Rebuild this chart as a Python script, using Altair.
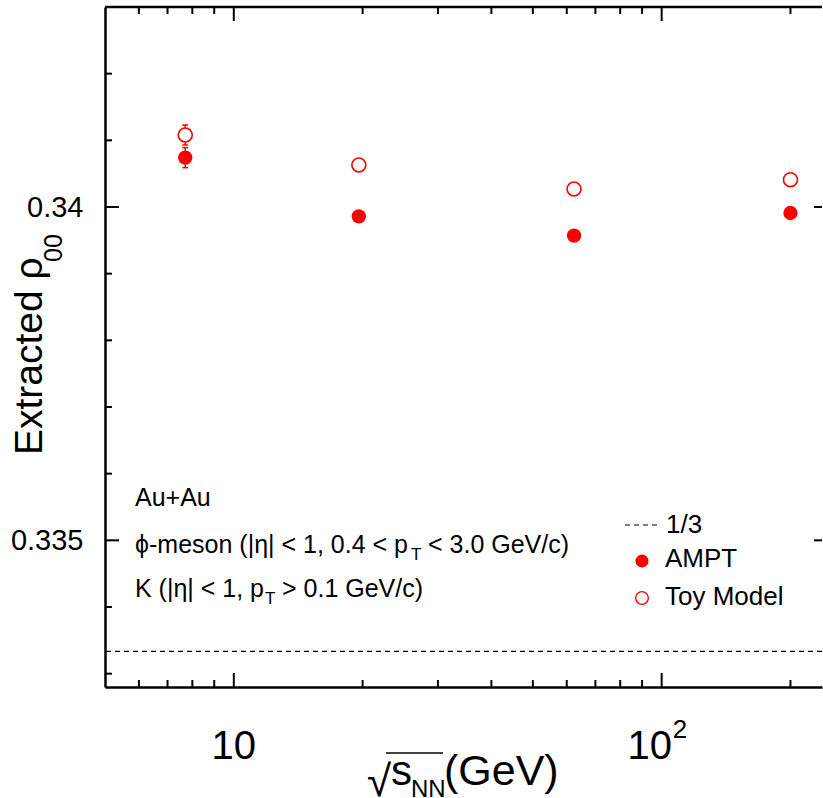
import altair as alt
import pandas as pd

# ---------------- data ----------------
energies = [7.7, 19.6, 62.4, 200.0]
ampt_rho = [0.34074, 0.33986, 0.33957, 0.33991]
ampt_err = [0.00015, 0.00004, 0.00004, 0.00004]
toy_rho = [0.34108, 0.34063, 0.34027, 0.34041]
toy_err = [0.00015, 0.00004, 0.00004, 0.00004]
reference_value = [1.0 / 3.0]
y_major = [0.335, 0.340]
y_minor = [0.333, 0.334, 0.336, 0.337, 0.338, 0.339, 0.341, 0.342]
x_major = [10, 100]
x_major_base = ["10", "10"]
x_major_exp = ["", "2"]
x_minor = [6, 7, 8, 9, 20, 30, 40, 50, 60, 70, 80, 90, 200]
legend_labels = ["1/3", "AMPT", "Toy Model"]
note_system = ["Au+Au"]
note_phi = ["ϕ-meson (|η| < 1, 0.4 < p", "T", "< 3.0 GeV/c)"]
note_kaon = ["K (|η| < 1, p", "T", "> 0.1 GeV/c)"]
y_title = ["Extracted ρ", "00"]
x_title = ["√", "s", "NN", "(GeV)"]

# ---------------- layout ----------------
FONT = "Liberation Sans"
L, T = 105, 7
W, H = 717, 680
RED = "#ff0000"


def px(x):
    return x - L


def py(y):
    return y - T


xs = alt.Scale(type="log", domain=[5, 237], nice=False)
ys = alt.Scale(domain=[0.3328, 0.343], nice=False, zero=False)

xaxis = alt.Axis(values=x_major, labels=False, ticks=False, tickSize=0,
                 grid=False, domain=True, domainColor="black", domainWidth=2.5,
                 title=None)
yaxis = alt.Axis(values=y_major, format=".3~f", ticks=False, tickSize=0,
                 grid=False, domain=True, domainColor="black", domainWidth=2.5,
                 labelFont=FONT, labelFontSize=29, labelColor="black",
                 labelPadding=22, labelFlush=False, title=None)


def X(f):
    return alt.X(f, type="quantitative", scale=xs, axis=xaxis)


def Y(f):
    return alt.Y(f, type="quantitative", scale=ys, axis=yaxis)


df = pd.DataFrame({
    "e": energies + energies,
    "rho": ampt_rho + toy_rho,
    "err": ampt_err + toy_err,
    "series": ["AMPT"] * len(energies) + ["Toy Model"] * len(energies),
})
df["lo"] = df["rho"] - df["err"]
df["hi"] = df["rho"] + df["err"]

layers = []

# reference line 1/3
layers.append(alt.Chart(pd.DataFrame({"v": reference_value})).mark_rule(
    color="black", strokeWidth=1.2, strokeDash=[5, 4]).encode(y=Y("v")))

# top frame line
layers.append(alt.Chart(pd.DataFrame({"k": [0]})).mark_rule(
    color="black", strokeWidth=2.5).encode(
    x=alt.value(0), x2=alt.value(W), y=alt.value(0)))

# ticks
ymin_df = pd.DataFrame({"v": y_minor})
ymaj_df = pd.DataFrame({"v": y_major})
xmin_df = pd.DataFrame({"v": x_minor})
xmaj_df = pd.DataFrame({"v": x_major, "b": x_major_base, "p": x_major_exp})
tk = dict(color="black", strokeWidth=2)
layers.append(alt.Chart(ymin_df).mark_rule(**tk).encode(
    y=Y("v"), x=alt.value(0), x2=alt.value(7)))
layers.append(alt.Chart(ymaj_df).mark_rule(**tk).encode(
    y=Y("v"), x=alt.value(0), x2=alt.value(14)))
layers.append(alt.Chart(ymaj_df).mark_rule(**tk).encode(
    y=Y("v"), x=alt.value(W - 8), x2=alt.value(W)))
layers.append(alt.Chart(xmin_df).mark_rule(**tk).encode(
    x=X("v"), y=alt.value(H), y2=alt.value(H - 7)))
layers.append(alt.Chart(xmaj_df).mark_rule(**tk).encode(
    x=X("v"), y=alt.value(H), y2=alt.value(H - 14)))
layers.append(alt.Chart(xmin_df).mark_rule(**tk).encode(
    x=X("v"), y=alt.value(0), y2=alt.value(7)))
layers.append(alt.Chart(xmaj_df).mark_rule(**tk).encode(
    x=X("v"), y=alt.value(0), y2=alt.value(14)))

# x tick labels: "10" and "10" with superscript "2"
xlab = alt.Chart(xmaj_df)
layers.append(xlab.transform_filter(alt.datum.p == "").mark_text(
    align="center", baseline="alphabetic", font=FONT, fontSize=40,
    color="black").encode(x=X("v"), y=alt.value(py(759)), text="b:N"))
layers.append(xlab.transform_filter(alt.datum.p != "").mark_text(
    align="center", baseline="alphabetic", font=FONT, fontSize=40,
    color="black", dx=-12).encode(x=X("v"), y=alt.value(py(759)), text="b:N"))
layers.append(xlab.transform_filter(alt.datum.p != "").mark_text(
    align="left", baseline="alphabetic", font=FONT, fontSize=26,
    color="black", dx=11).encode(x=X("v"), y=alt.value(py(738)), text="p:N"))

# error bars
base = alt.Chart(df)
layers.append(base.mark_rule(color=RED, strokeWidth=1.5).encode(
    x=X("e"), y=Y("lo"), y2="hi"))
layers.append(base.mark_tick(orient="horizontal", color=RED, thickness=1.5,
                             size=6, opacity=1).encode(x=X("e"), y=Y("lo")))
layers.append(base.mark_tick(orient="horizontal", color=RED, thickness=1.5,
                             size=6, opacity=1).encode(x=X("e"), y=Y("hi")))

# points
layers.append(base.transform_filter(alt.datum.series == "AMPT").mark_point(
    shape="circle", filled=True, color=RED, size=205, opacity=1).encode(
    x=X("e"), y=Y("rho")))
layers.append(base.transform_filter(alt.datum.series == "Toy Model").mark_point(
    shape="circle", filled=True, fill="white", stroke=RED, strokeWidth=1.6,
    size=195, opacity=1).encode(x=X("e"), y=Y("rho")))


def label(txt, x, y, size, angle=0):
    return alt.Chart(pd.DataFrame({"t": [txt]})).mark_text(
        align="left", baseline="alphabetic", font=FONT, fontSize=size,
        color="black", angle=angle).encode(
        x=alt.value(px(x)), y=alt.value(py(y)), text="t:N")


# annotations
layers.append(label(note_system[0], 135, 506, 25))
layers.append(label(note_phi[0], 135, 553, 25))
layers.append(label(note_phi[1], 411, 560, 17))
layers.append(label(note_phi[2], 428, 553, 25))
layers.append(label(note_kaon[0], 135, 597, 25))
layers.append(label(note_kaon[1], 265, 604, 17))
layers.append(label(note_kaon[2], 282, 597, 25))

# legend
layers.append(alt.Chart(pd.DataFrame({"t": [legend_labels[0]]})).mark_rule(
    color="black", strokeWidth=1.2, strokeDash=[5, 4]).encode(
    x=alt.value(px(625)), x2=alt.value(px(657)), y=alt.value(py(525))))
layers.append(alt.Chart(pd.DataFrame({"t": [legend_labels[1]]})).mark_point(
    shape="circle", filled=True, color=RED, size=170, opacity=1).encode(
    x=alt.value(px(642)), y=alt.value(py(561))))
layers.append(alt.Chart(pd.DataFrame({"t": [legend_labels[2]]})).mark_point(
    shape="circle", filled=True, fill="white", stroke=RED, strokeWidth=1.4,
    size=160, opacity=1).encode(x=alt.value(px(642)), y=alt.value(py(598))))
layers.append(label(legend_labels[0], 666, 533, 26))
layers.append(label(legend_labels[1], 665, 567, 26))
layers.append(label(legend_labels[2], 665, 605, 26))

# axis titles
layers.append(label(y_title[0], 42, 455, 39, angle=270))
layers.append(label(y_title[1], 62, 262, 25, angle=270))
layers.append(label(x_title[0], 367, 796, 44))
layers.append(label(x_title[1], 391, 785, 42))
layers.append(label(x_title[2], 411, 797, 24))
layers.append(label(x_title[3], 444, 785, 43))
layers.append(alt.Chart(pd.DataFrame({"t": [x_title[0]]})).mark_rule(
    color="black", strokeWidth=1.5).encode(
    x=alt.value(px(386)), x2=alt.value(px(443)), y=alt.value(py(753))))

chart = alt.layer(*layers).properties(
    width=W, height=H,
    autosize=alt.AutoSizeParams(type="none"),
    padding={"left": L, "top": T, "right": 823 - L - W, "bottom": 798 - T - H},
).configure_view(stroke=None)

chart.save("out.html", embed_options={"renderer": "svg", "actions": False})
